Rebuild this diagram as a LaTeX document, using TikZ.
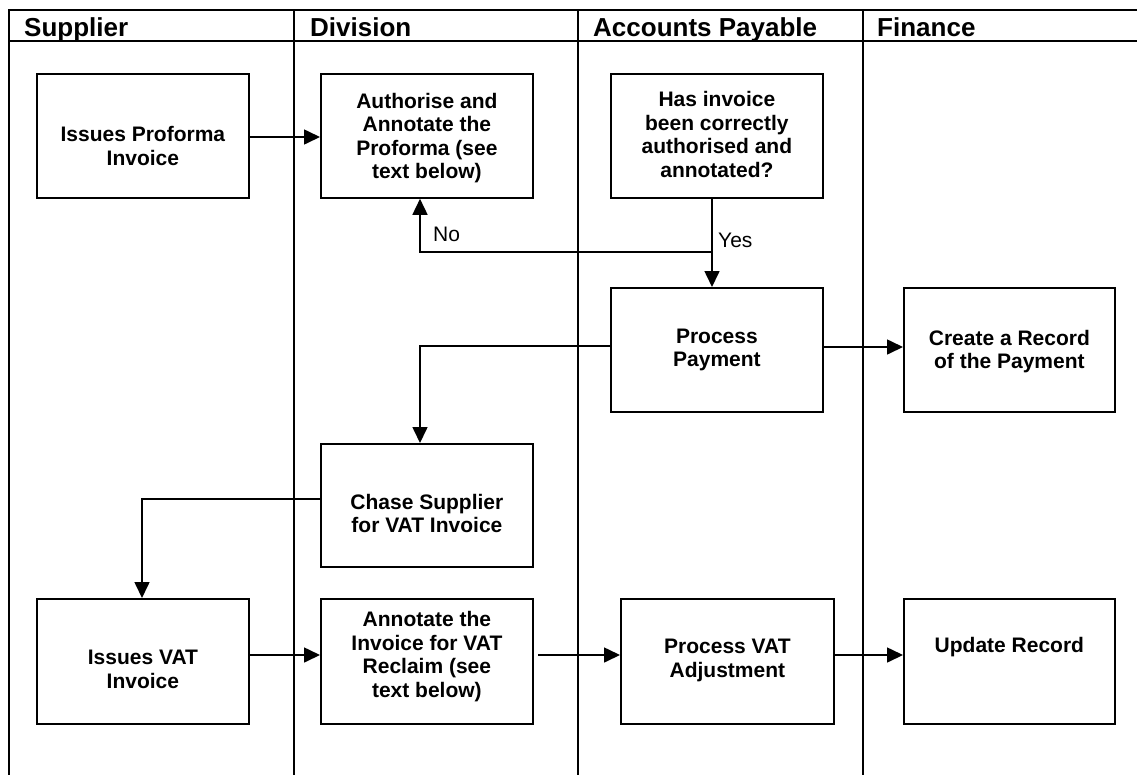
\documentclass[tikz,border=0pt]{standalone}
\usepackage{fontspec}
\setmainfont{Liberation Sans}
\usetikzlibrary{arrows.meta,calc}
\begin{document}
\begin{tikzpicture}[x=1pt,y=-1pt,
  lane/.style={line width=2.3pt},
  box/.style={draw, line width=1.8pt, rectangle, anchor=north west, inner sep=0pt,
    minimum width=212pt, minimum height=124pt},
  txt/.style={font=\fontsize{21}{23.5}\selectfont\bfseries, align=center, inner sep=0pt},
  hdr/.style={font=\fontsize{26}{28}\selectfont\bfseries, anchor=base west, inner sep=0pt},
  lbl/.style={font=\fontsize{21}{23.5}\selectfont, anchor=base west, inner sep=0pt},
  arr/.style={line width=1.6pt, -{Triangle[length=16pt,width=15pt]}}]
\useasboundingbox (0,0) rectangle (1137,774);
\fill[white] (0,0) rectangle (1137,774);
% swimlanes
\draw[lane] (9,10) -- (1140,10);
\draw[lane] (9,41) -- (1140,41);
\draw[lane] (9,9) -- (9,780);
\draw[lane] (294,10) -- (294,780);
\draw[lane] (578,10) -- (578,780);
\draw[lane] (863,10) -- (863,780);
\node[hdr] (h1) at (24,36) {Supplier};
\node[hdr] (h2) at (310,36) {Division};
\node[hdr] (h3) at (593,36) {Accounts Payable};
\node[hdr] (h4) at (877,36) {Finance};
% boxes
\node[box] (ip) at (36,73) {};
\node[box] (au) at (320,73) {};
\node[box] (hi) at (610,73) {};
\node[box] (pp) at (610,287) {};
\node[box, minimum width=211pt] (cr) at (903,287) {};
\node[box, minimum height=123pt] (ch) at (320,443) {};
\node[box, minimum height=125pt] (iv) at (36,598) {};
\node[box, minimum height=125pt] (an) at (320,598) {};
\node[box, minimum height=125pt, minimum width=213pt] (pv) at (620,598) {};
\node[box, minimum height=125pt, minimum width=211pt] (ur) at (903,598) {};
% texts
\node[txt] (tip) at ($(ip.center)+(0,10)$) {Issues Proforma\\Invoice};
\node[txt] (tau) at ($(au.center)+(0,2)$) {Authorise and\\Annotate the\\Proforma (see\\text below)};
\node[txt] (thi) at ($(hi.center)+(0,-1.5)$) {Has invoice\\been correctly\\authorised and\\annotated?};
\node[txt] (tpp) at ($(pp.center)+(0,0)$) {Process\\Payment};
\node[txt] (tcr) at ($(cr.center)+(0,1.5)$) {Create a Record\\of the Payment};
\node[txt] (tch) at ($(ch.center)+(0,8)$) {Chase Supplier\\for VAT Invoice};
\node[txt] (tiv) at ($(iv.center)+(0,8)$) {Issues VAT\\Invoice};
\node[txt] (tan) at ($(an.center)+(0,-5)$) {Annotate the\\Invoice for VAT\\Reclaim (see\\text below)};
\node[txt] (tpv) at ($(pv.center)+(0,-1)$) {Process VAT\\Adjustment};
\node[txt] (tur) at ($(ur.center)+(0,-14)$) {Update Record};
% connectors
\coordinate (r1) at (0,137);
\draw[arr] (ip.east |- r1) -- (au.west |- r1);
\coordinate (yj) at (712,252);
\coordinate (nj) at (420,252);
\draw[arr] (hi.south -| yj) -- (pp.north -| yj);
\draw[arr] (yj) -- (nj) -- (au.south -| nj);
\node[lbl] (lno) at (433,241) {No};
\node[lbl] (lyes) at (718,247) {Yes};
\coordinate (r2) at (0,347);
\draw[arr] (pp.east |- r2) -- (cr.west |- r2);
\coordinate (pj) at (420,346);
\draw[arr] (pp.west |- pj) -- (pj) -- (ch.north -| pj);
\coordinate (cj) at (142,499);
\draw[arr] (ch.west |- cj) -- (cj) -- (iv.north -| cj);
\coordinate (r3) at (0,655);
\draw[arr] (iv.east |- r3) -- (an.west |- r3);
\coordinate (gs) at (538,655);
\draw[arr] (gs) -- (pv.west |- r3);
\draw[arr] (pv.east |- r3) -- (ur.west |- r3);
\end{tikzpicture}
\end{document}
